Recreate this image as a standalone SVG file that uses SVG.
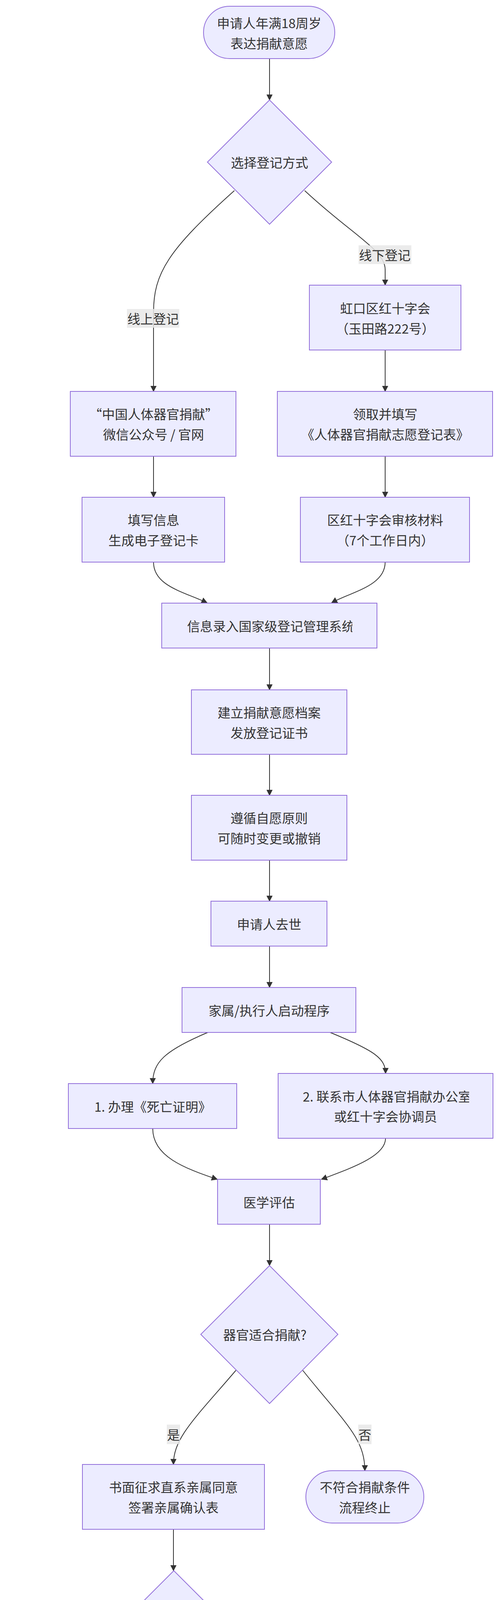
<svg xmlns="http://www.w3.org/2000/svg" width="1280" height="5103" viewBox="0 0 1280 5103">
<style>
.n{fill:#ECECFF;stroke:#9370DB;stroke-width:2}
.t{font-family:"Noto Sans CJK SC","Noto Sans",sans-serif;font-size:33px;fill:#333;text-anchor:middle;dominant-baseline:central}
.e{fill:none;stroke:#333;stroke-width:2;marker-end:url(#a)}
.lb{fill:#E8E8E8;fill-opacity:0.85}
</style>
<defs>
<marker id="a" markerUnits="userSpaceOnUse" markerWidth="16" markerHeight="16" viewBox="0 0 10 10" refX="9" refY="5" orient="auto"><path d="M0,0L10,5L0,10z" fill="#333"/></marker>
<clipPath id="c1"><rect x="414" y="1544" width="488" height="115"/></clipPath>
<clipPath id="c2"><rect x="712" y="2748" width="489" height="166"/></clipPath>
</defs>
<rect width="1280" height="5103" fill="#fff"/>
<g id="edges">
<path class="e" d="M690,150L690,256"/>
<path class="e" d="M600,488C430,640 393,700 393,800L393,1002"/>
<path class="e" d="M780,488C900,600 986,640 986,690L986,730"/>
<path class="e" d="M986,896L986,1002"/>
<path class="e" d="M393,1168L393,1273"/>
<path class="e" d="M986,1168L986,1273"/>
<path class="e" d="M393,1439C393,1500 470,1515 530,1543"/>
<path class="e" d="M986,1439C986,1500 900,1515 849,1543"/>
<path class="e" d="M690,1659L690,1766"/>
<path class="e" d="M690,1931L690,2036"/>
<path class="e" d="M690,2202L690,2307"/>
<path class="e" d="M690,2422L690,2528"/>
<path class="e" d="M532,2643C420,2690 391,2720 391,2774"/>
<path class="e" d="M845,2643C960,2690 987,2710 987,2748"/>
<path class="e" d="M391,2889C391,2960 470,2990 556,3019"/>
<path class="e" d="M987,2914C987,2960 900,2990 823,3019"/>
<path class="e" d="M690,3134L690,3240"/>
<path class="e" d="M604,3508C500,3630 444,3680 444,3749"/>
<path class="e" d="M775,3508C880,3640 934,3680 934,3765"/>
<path class="e" d="M444,3915L444,4021"/>
<path class="e" d="M374,4236C290,4340 233,4400 233,4462"/>
<path class="e" d="M514,4236C600,4330 655,4400 655,4478"/>
<path class="e" d="M233,4627L233,4732"/>
<path class="e" d="M233,4899L233,5004"/>
<rect class="lb" x="325" y="791" width="134" height="48"/><text class="t" x="392" y="815">线上登记</text>
<rect class="lb" x="918" y="628" width="135" height="48"/><text class="t" x="985" y="652">线下登记</text>
<rect class="lb" x="427" y="3647" width="34" height="50"/><text class="t" x="444" y="3672">是</text>
<rect class="lb" x="917" y="3647" width="34" height="50"/><text class="t" x="934" y="3672">否</text>
<rect class="lb" x="216" y="4358" width="33" height="50"/><text class="t" x="232" y="4383">是</text>
<rect class="lb" x="601" y="4320" width="33" height="49"/><text class="t" x="618" y="4344">否</text>
</g>
<g id="start"><rect class="n" x="521" y="16" width="336" height="134" rx="67"/><text class="t" x="689" y="58">申请人年满18周岁</text><text class="t" x="689" y="110">表达捐献意愿</text></g>
<g id="d1"><polygon class="n" points="690,256 849,415 690,574 531,415"/><text class="t" x="690" y="415">选择登记方式</text></g>
<g id="hk"><rect class="n" x="792" y="730" width="388" height="166"/><text class="t" x="986" y="788">虹口区红十字会</text><text class="t" x="986" y="840">（玉田路222号）</text></g>
<g id="wx"><rect class="n" x="180" y="1002" width="424" height="166"/><text class="t" x="393" y="1059">“中国人体器官捐献”</text><text class="t" x="393" y="1111">微信公众号 / 官网</text></g>
<g id="form"><rect class="n" x="710" y="1002" width="551" height="166"/><text class="t" x="986" y="1059">领取并填写</text><text class="t" x="986" y="1111">《人体器官捐献志愿登记表》</text></g>
<g id="fill"><rect class="n" x="210" y="1273" width="365" height="166"/><text class="t" x="393" y="1330">填写信息</text><text class="t" x="393" y="1382">生成电子登记卡</text></g>
<g id="review"><rect class="n" x="769" y="1273" width="433" height="166"/><text class="t" x="986" y="1330">区红十字会审核材料</text><text class="t" x="986" y="1382">（7个工作日内）</text></g>
<g id="sys"><rect class="n" x="414" y="1544" width="551" height="115"/><text class="t" x="479" y="1602" style="text-anchor:start" clip-path="url(#c1)">信息录入国家级登记管理系统</text></g>
<g id="file"><rect class="n" x="490" y="1766" width="398" height="165"/><text class="t" x="689" y="1823">建立捐献意愿档案</text><text class="t" x="689" y="1875">发放登记证书</text></g>
<g id="vol"><rect class="n" x="490" y="2036" width="398" height="166"/><text class="t" x="689" y="2093">遵循自愿原则</text><text class="t" x="689" y="2145">可随时变更或撤销</text></g>
<g id="die"><rect class="n" x="540" y="2307" width="297" height="115"/><text class="t" x="689" y="2365">申请人去世</text></g>
<g id="fam"><rect class="n" x="466" y="2528" width="445" height="115"/><text class="t" x="689" y="2586">家属/执行人启动程序</text></g>
<g id="cert"><rect class="n" x="175" y="2774" width="431" height="115"/><text class="t" x="391" y="2832">1. 办理《死亡证明》</text></g>
<g id="office"><rect class="n" x="712" y="2748" width="550" height="166"/><text class="t" x="775" y="2806" style="text-anchor:start" clip-path="url(#c2)">2. 联系市人体器官捐献办公室</text><text class="t" x="987" y="2857">或红十字会协调员</text></g>
<g id="med"><rect class="n" x="557" y="3019" width="263" height="115"/><text class="t" x="689" y="3077">医学评估</text></g>
<g id="d2"><polygon class="n" points="690,3240 865,3416 690,3593 514,3416"/><text class="t" x="678" y="3416">器官适合捐献?</text></g>
<g id="consent"><rect class="n" x="211" y="3749" width="466" height="166"/><text class="t" x="444" y="3806">书面征求直系亲属同意</text><text class="t" x="444" y="3858">签署亲属确认表</text></g>
<g id="end1"><rect class="n" x="783" y="3765" width="302" height="134" rx="67"/><text class="t" x="934" y="3806">不符合捐献条件</text><text class="t" x="934" y="3858">流程终止</text></g>
<g id="d3"><polygon class="n" points="445,4021 587,4163 445,4305 303,4163"/><text class="t" x="435" y="4163">亲属同意?</text></g>
<g id="surg"><rect class="n" x="33" y="4462" width="399" height="165"/><text class="t" x="233" y="4519">实施器官获取手术</text><text class="t" x="233" y="4571">维护逝者尊严</text></g>
<g id="end2"><rect class="n" x="539" y="4478" width="233" height="133" rx="66"/><text class="t" x="655" y="4519">家属不同意</text><text class="t" x="655" y="4571">流程终止</text></g>
<g id="care"><rect class="n" x="16" y="4732" width="433" height="167"/><text class="t" x="233" y="4790">红十字会向家属</text><text class="t" x="233" y="4842">致以缅怀与人文关怀</text></g>
<g id="done"><rect class="n" x="139" y="5004" width="187" height="84" rx="42"/><text class="t" x="233" y="5046">捐献完成</text></g>
</svg>
